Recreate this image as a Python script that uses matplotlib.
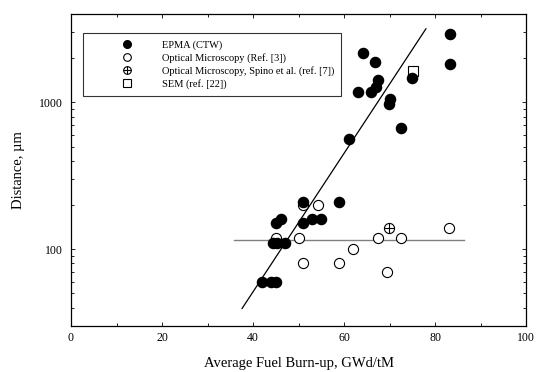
import numpy as np
import matplotlib.pyplot as plt
from matplotlib.lines import Line2D
from matplotlib.ticker import FixedLocator, NullFormatter, LogLocator

# EPMA (CTW) - filled circles
epma_burnup = [42, 44, 45, 44.5, 45.3, 47, 45, 46.2, 51, 53, 55, 51, 59,
               61, 63, 64.2, 66, 67, 67.5, 66.8, 70, 69.8, 72.5, 75, 83.3, 83.3]
epma_dist = [60, 60, 60, 110, 110, 110, 150, 160, 150, 160, 160, 210, 210,
             560, 1170, 2180, 1170, 1270, 1430, 1880, 1060, 970, 670, 1470, 2930, 1830]

# Optical microscopy (Ref. [3]) - open circles
om_burnup = [45, 50, 51, 54.2, 51, 59, 62, 67.5, 69.5, 72.5, 83]
om_dist = [120, 120, 200, 200, 80, 80, 100, 120, 70, 120, 140]

# Optical microscopy, Spino et al. (ref. [7])
spino_burnup = [69.8]
spino_dist = [140]

# SEM (ref. [22])
sem_burnup = [75.2]
sem_dist = [1630]

# fitted lines (end points)
fit_x = [37.6, 78.0]
fit_y = [39.5, 3170]
flat_x = [35.9, 86.4]
flat_y = [115, 115]

legend_labels = ['EPMA (CTW)', 'Optical Microscopy (Ref. [3])',
                 'Optical Microscopy, Spino et al. (ref. [7])', 'SEM (ref. [22])']

plt.rcParams['font.family'] = ['Liberation Serif', 'DejaVu Serif']

fig = plt.figure(figsize=(5.36, 3.72), dpi=100)
ax = fig.add_axes([71 / 536, 1 - 326 / 372, 455 / 536, 312 / 372])

ax.plot(flat_x, flat_y, color='#808080', lw=1.0, zorder=1)
ax.plot(fit_x, fit_y, color='black', lw=0.9, zorder=1)

ms = 7.3
ax.plot(om_burnup, om_dist, 'o', ms=ms, mfc='white', mec='black', mew=0.8, zorder=2)
ax.plot(epma_burnup, epma_dist, 'o', ms=ms, color='black', zorder=3)
ax.plot(spino_burnup, spino_dist, 'o', ms=ms, mfc='white', mec='black', mew=0.8, zorder=3)
ax.plot(spino_burnup, spino_dist, '+', ms=ms, color='black', mew=0.8, zorder=4)
ax.plot(sem_burnup, sem_dist, 's', ms=ms, mfc='white', mec='black', mew=0.8, zorder=2)

ax.set_yscale('log')
ax.set_xlim(0, 100)
ax.set_ylim(30, 4000)

ax.xaxis.set_major_locator(FixedLocator([0, 20, 40, 60, 80, 100]))
ax.xaxis.set_minor_locator(FixedLocator([10, 30, 50, 70, 90]))
ax.yaxis.set_major_locator(FixedLocator([100, 1000]))
ax.yaxis.set_minor_locator(LogLocator(base=10, subs=np.arange(2, 10)))
ax.yaxis.set_minor_formatter(NullFormatter())
ax.set_yticklabels(['100', '1000'])

ax.tick_params(which='both', direction='in', top=True, right=True, labelsize=8.5,
               width=0.6)
ax.tick_params(which='major', length=3, pad=4)
ax.tick_params(axis='y', which='major', pad=6)
ax.tick_params(which='minor', length=2)
for s in ax.spines.values():
    s.set_linewidth(0.9)

ax.set_xlabel('Average Fuel Burn-up, GWd/tM', fontsize=10.5, labelpad=10)
ax.set_ylabel('Distance, \u00b5m', fontsize=10.5, labelpad=10)

# legend built by hand so the order and the crossed symbol match
lms = 5.5
h_epma = Line2D([], [], ls='', marker='o', ms=lms, color='black')
h_om = Line2D([], [], ls='', marker='o', ms=lms, mfc='white', mec='black', mew=0.8)
h_circ = Line2D([], [], ls='', marker='o', ms=lms, mfc='white', mec='black', mew=0.8)
h_plus = Line2D([], [], ls='', marker='+', ms=lms, color='black', mew=0.8)
h_sem = Line2D([], [], ls='', marker='s', ms=lms, mfc='white', mec='black', mew=0.8)
leg = ax.legend([h_epma, h_om, (h_circ, h_plus), h_sem], legend_labels,
                loc='upper left', bbox_to_anchor=(12 / 455, 1 - 19 / 312),
                fontsize=7.5, frameon=True, fancybox=False, edgecolor='black',
                borderpad=0.7, labelspacing=0.3, handletextpad=-0.15, handlelength=7.0,
                borderaxespad=0)
leg.get_frame().set_linewidth(0.8)

fig.savefig('out.png', dpi=100)
